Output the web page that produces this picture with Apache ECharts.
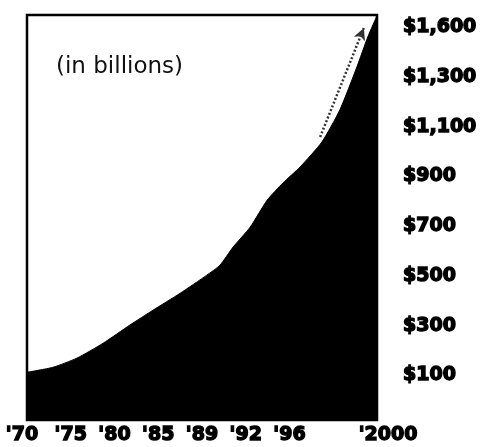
<!DOCTYPE html>
<html>
<head>
<meta charset="utf-8">
<script src="https://cdn.jsdelivr.net/npm/echarts@6/dist/echarts.min.js"></script>
<style>
  html, body { margin: 0; padding: 0; background: #fff; }
  #chart { width: 484px; height: 447px; }
</style>
</head>
<body>
<div id="chart"></div>
<script>
// Year labels along the bottom, one per slot (slot 7 carries no label)
const xTickLabels = ["'70", "'75", "'80", "'85", "'89", "'92", "'96", "", "'2000"];

// Dollar labels on the right, placed at the tick values below
const yTickValues = [100, 300, 500, 700, 900, 1100, 1300, 1500];
const yTickLabels = ['$100', '$300', '$500', '$700', '$900', '$1,100', '$1,300', '$1,600'];

// Outline of the filled area: position along the time slots and amount in billions
const slotPos = [0, 0.59, 1.14, 1.74, 2.35, 2.88, 3.50, 4.11, 4.41, 4.71, 5.10, 5.49, 5.85, 6.24, 6.74, 7.15, 7.54, 7.79, 8];
const amount  = [112, 132, 169, 229, 302, 362, 430, 503, 543, 616, 696, 805, 874, 938, 1039, 1168, 1341, 1462, 1547];

// Dotted projection arrow: start and tip
const arrowFrom = [6.70, 1059];
const arrowTo = [7.70, 1498];

const heavy = {
  fontFamily: 'DejaVu Sans',
  fontWeight: 'bold',
  fontSize: 19,
  color: '#000',
  textBorderColor: '#000',
  textBorderWidth: 1.4
};

const chart = echarts.init(document.getElementById('chart'), null, { renderer: 'canvas' });

// first and last year labels sit slightly outward from their slots
function xLabel(v) {
  const i = Math.round(v);
  const t = xTickLabels[i] || '';
  if (!t) return '';
  if (i === 0) return '{first|' + t + '}';
  if (i === xTickLabels.length - 1) return '{last|' + t + '}';
  return t;
}

chart.setOption({
  backgroundColor: '#fff',
  animation: false,
  title: {
    text: '(in billions)',
    left: 51,
    top: 51,
    textStyle: {
      fontFamily: 'DejaVu Sans',
      fontWeight: 'normal',
      fontSize: 23,
      color: '#111'
    }
  },
  grid: {
    left: 27,
    right: 107,
    top: 15,
    bottom: 27,
    show: true,
    borderColor: '#000',
    borderWidth: 2.5,
    backgroundColor: '#fff'
  },
  xAxis: {
    type: 'value',
    min: 0,
    max: 8,
    interval: 1,
    axisLine: { show: false },
    axisTick: { show: false },
    splitLine: { show: false },
    axisLabel: Object.assign({
      margin: 6,
      formatter: xLabel,
      rich: {
        first: Object.assign({ padding: [0, 10, 0, 0] }, heavy),
        last: Object.assign({ padding: [0, 0, 0, 22] }, heavy)
      }
    }, heavy)
  },
  yAxis: {
    type: 'value',
    position: 'right',
    min: -80,
    max: 1550,
    axisLine: { show: false },
    axisTick: { show: false },
    splitLine: { show: false },
    axisLabel: Object.assign({
      margin: 26,
      customValues: yTickValues,
      formatter: v => yTickLabels[yTickValues.indexOf(v)] || ''
    }, heavy)
  },
  series: [{
    type: 'line',
    data: slotPos.map((x, i) => [x, amount[i]]),
    smooth: 0.2,
    symbol: 'none',
    lineStyle: { color: '#000', width: 1 },
    areaStyle: { color: '#000', opacity: 1, origin: 'start' },
    markLine: {
      silent: true,
      symbol: ['none', 'arrow'],
      symbolSize: [9, 12],
      label: { show: false },
      lineStyle: { color: '#333', width: 2.5, type: [2, 2] },
      data: [[{ coord: arrowFrom }, { coord: arrowTo }]]
    }
  }]
});
</script>
</body>
</html>
